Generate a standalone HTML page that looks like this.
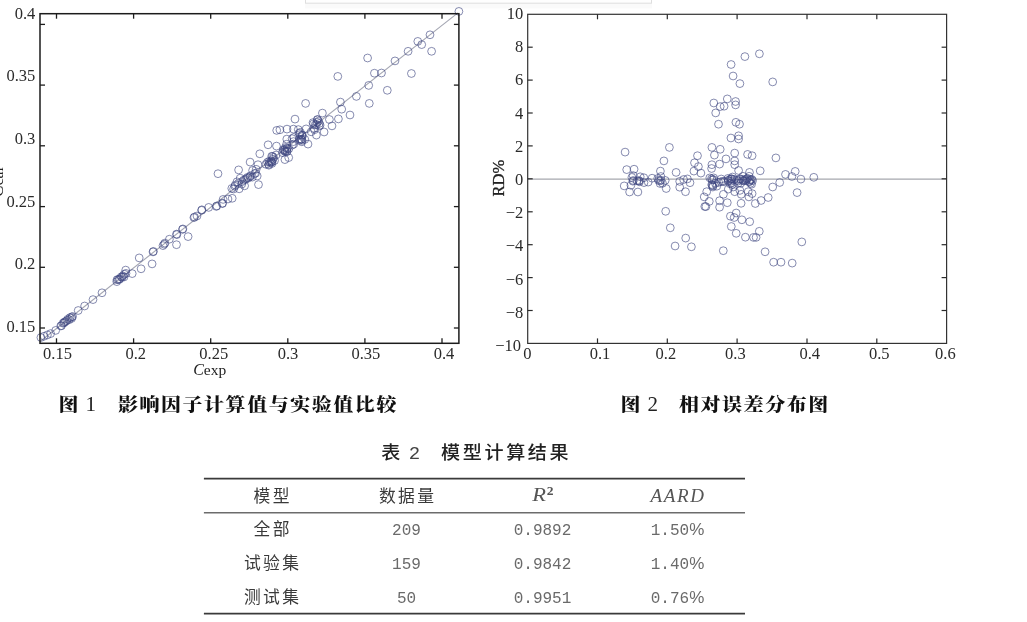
<!DOCTYPE html>
<html lang="zh-CN"><head><meta charset="utf-8"><title>图1 图2 表2</title><style>
html,body{margin:0;padding:0;background:#fff;}
body{width:1027px;height:622px;overflow:hidden;position:relative;}
svg{display:block;position:absolute;left:0;top:0;filter:blur(0.45px);}
.tick{font-family:"Liberation Serif",serif;font-size:16.5px;fill:#2a2a2a;}
.axl{font-family:"Liberation Serif",serif;fill:#222;}
.cap{font-family:"Liberation Serif","Noto Serif CJK SC",serif;font-weight:900;font-size:18.5px;letter-spacing:1.45px;fill:#111;}
.capn{font-family:"Liberation Serif",serif;font-weight:400;font-size:21px;fill:#222;}
.ttl{font-family:"Liberation Sans","Noto Sans CJK SC",sans-serif;font-weight:500;font-size:18px;letter-spacing:2.5px;fill:#222;}
.ttn{font-family:"Liberation Mono",monospace;font-weight:400;font-size:19px;fill:#444;}
.tc{font-family:"Liberation Sans","Noto Sans CJK SC",sans-serif;font-weight:400;font-size:16.8px;letter-spacing:2.4px;fill:#3a3a3a;text-anchor:middle;}
.tn{font-family:"Liberation Mono",monospace;font-size:16px;fill:#6a6a6a;text-anchor:middle;}
.pc{font-family:"Liberation Sans",sans-serif;font-size:17px;}
.th{font-family:"Liberation Serif",serif;font-style:italic;font-size:19px;fill:#555;text-anchor:middle;}
</style></head><body>
<svg width="1027" height="622" viewBox="0 0 1027 622" role="img" aria-label="图1 影响因子计算值与实验值比较；图2 相对误差分布图；表2 模型计算结果">
<rect width="1027" height="622" fill="#fff"/>
<rect x="305" y="3.4" width="347" height="5" fill="#fafafa"/>
<rect x="305.5" y="-2" width="346" height="5.2" fill="#fefefe" stroke="#dedede" stroke-width="1"/>
<g id="plot1">
<line x1="40.0" y1="341.5" x2="457.9" y2="12.863440000000026" stroke="#a4a6b2" stroke-width="1.1"/>
<g fill="none" stroke="#3e4680" stroke-width="1.0" stroke-opacity="0.62"><circle cx="40.9" cy="337.5" r="3.9"/><circle cx="44.1" cy="336.2" r="3.9"/><circle cx="47.4" cy="334.9" r="3.9"/><circle cx="50.6" cy="333.6" r="3.9"/><circle cx="55.7" cy="330.4" r="3.9"/><circle cx="78.2" cy="310.5" r="3.9"/><circle cx="84.6" cy="306.0" r="3.9"/><circle cx="93.0" cy="299.6" r="3.9"/><circle cx="102.0" cy="292.8" r="3.9"/><circle cx="125.7" cy="270.1" r="3.9"/><circle cx="132.2" cy="273.6" r="3.9"/><circle cx="141.1" cy="268.8" r="3.9"/><circle cx="139.2" cy="257.9" r="3.9"/><circle cx="152.1" cy="263.9" r="3.9"/><circle cx="153.4" cy="251.4" r="3.9"/><circle cx="163.0" cy="245.6" r="3.9"/><circle cx="164.9" cy="243.1" r="3.9"/><circle cx="169.4" cy="239.2" r="3.9"/><circle cx="176.5" cy="244.7" r="3.9"/><circle cx="176.5" cy="234.1" r="3.9"/><circle cx="182.9" cy="228.9" r="3.9"/><circle cx="188.1" cy="236.6" r="3.9"/><circle cx="193.9" cy="217.6" r="3.9"/><circle cx="197.0" cy="216.0" r="3.9"/><circle cx="201.6" cy="210.3" r="3.9"/><circle cx="208.7" cy="207.4" r="3.9"/><circle cx="216.3" cy="206.4" r="3.9"/><circle cx="222.3" cy="203.6" r="3.9"/><circle cx="223.1" cy="199.4" r="3.9"/><circle cx="228.0" cy="199.0" r="3.9"/><circle cx="218.0" cy="173.7" r="3.9"/><circle cx="238.6" cy="169.9" r="3.9"/><circle cx="258.5" cy="184.6" r="3.9"/><circle cx="250.1" cy="162.1" r="3.9"/><circle cx="259.8" cy="153.8" r="3.9"/><circle cx="268.1" cy="144.8" r="3.9"/><circle cx="276.5" cy="146.1" r="3.9"/><circle cx="284.9" cy="159.6" r="3.9"/><circle cx="288.7" cy="157.6" r="3.9"/><circle cx="308.0" cy="144.1" r="3.9"/><circle cx="316.4" cy="135.1" r="3.9"/><circle cx="324.1" cy="132.0" r="3.9"/><circle cx="337.8" cy="76.4" r="3.9"/><circle cx="305.6" cy="103.4" r="3.9"/><circle cx="295.0" cy="119.1" r="3.9"/><circle cx="276.7" cy="130.4" r="3.9"/><circle cx="279.9" cy="129.8" r="3.9"/><circle cx="287.0" cy="129.1" r="3.9"/><circle cx="293.4" cy="129.1" r="3.9"/><circle cx="322.4" cy="113.1" r="3.9"/><circle cx="329.4" cy="119.5" r="3.9"/><circle cx="332.0" cy="125.9" r="3.9"/><circle cx="338.4" cy="118.9" r="3.9"/><circle cx="340.4" cy="102.1" r="3.9"/><circle cx="341.7" cy="109.2" r="3.9"/><circle cx="350.0" cy="115.0" r="3.9"/><circle cx="356.4" cy="96.4" r="3.9"/><circle cx="369.3" cy="103.4" r="3.9"/><circle cx="368.7" cy="85.4" r="3.9"/><circle cx="374.4" cy="73.2" r="3.9"/><circle cx="381.5" cy="73.0" r="3.9"/><circle cx="387.3" cy="90.3" r="3.9"/><circle cx="458.9" cy="11.4" r="3.9"/><circle cx="430.0" cy="34.8" r="3.9"/><circle cx="417.8" cy="41.4" r="3.9"/><circle cx="421.7" cy="44.6" r="3.9"/><circle cx="431.6" cy="51.3" r="3.9"/><circle cx="408.1" cy="51.3" r="3.9"/><circle cx="395.0" cy="60.9" r="3.9"/><circle cx="411.4" cy="73.5" r="3.9"/><circle cx="367.6" cy="58.0" r="3.9"/><circle cx="60.8" cy="325.9" r="3.9"/><circle cx="61.5" cy="325.7" r="3.9"/><circle cx="63.0" cy="323.2" r="3.9"/><circle cx="64.0" cy="322.9" r="3.9"/><circle cx="64.4" cy="322.0" r="3.9"/><circle cx="65.5" cy="321.6" r="3.9"/><circle cx="66.9" cy="320.6" r="3.9"/><circle cx="67.7" cy="319.3" r="3.9"/><circle cx="69.2" cy="319.7" r="3.9"/><circle cx="69.9" cy="317.6" r="3.9"/><circle cx="71.6" cy="318.4" r="3.9"/><circle cx="71.7" cy="317.0" r="3.9"/><circle cx="72.6" cy="316.5" r="3.9"/><circle cx="116.8" cy="281.6" r="3.9"/><circle cx="117.0" cy="279.8" r="3.9"/><circle cx="118.1" cy="279.4" r="3.9"/><circle cx="119.2" cy="279.5" r="3.9"/><circle cx="119.7" cy="278.9" r="3.9"/><circle cx="121.2" cy="276.9" r="3.9"/><circle cx="122.0" cy="277.3" r="3.9"/><circle cx="122.8" cy="275.9" r="3.9"/><circle cx="124.0" cy="277.0" r="3.9"/><circle cx="124.3" cy="274.2" r="3.9"/><circle cx="126.0" cy="273.4" r="3.9"/><circle cx="231.8" cy="188.4" r="3.9"/><circle cx="232.2" cy="198.3" r="3.9"/><circle cx="233.6" cy="189.0" r="3.9"/><circle cx="234.8" cy="186.3" r="3.9"/><circle cx="235.3" cy="185.1" r="3.9"/><circle cx="237.0" cy="181.8" r="3.9"/><circle cx="238.5" cy="183.3" r="3.9"/><circle cx="239.2" cy="188.8" r="3.9"/><circle cx="240.2" cy="178.2" r="3.9"/><circle cx="241.8" cy="184.1" r="3.9"/><circle cx="242.3" cy="181.6" r="3.9"/><circle cx="243.6" cy="180.2" r="3.9"/><circle cx="244.6" cy="185.8" r="3.9"/><circle cx="245.3" cy="179.5" r="3.9"/><circle cx="246.5" cy="178.5" r="3.9"/><circle cx="247.6" cy="177.3" r="3.9"/><circle cx="248.4" cy="178.1" r="3.9"/><circle cx="250.2" cy="176.6" r="3.9"/><circle cx="250.5" cy="175.7" r="3.9"/><circle cx="252.4" cy="177.1" r="3.9"/><circle cx="252.6" cy="170.4" r="3.9"/><circle cx="254.6" cy="173.6" r="3.9"/><circle cx="255.6" cy="173.2" r="3.9"/><circle cx="256.2" cy="169.3" r="3.9"/><circle cx="257.2" cy="176.0" r="3.9"/><circle cx="258.0" cy="164.7" r="3.9"/><circle cx="271.9" cy="162.0" r="3.9"/><circle cx="272.0" cy="163.4" r="3.9"/><circle cx="267.5" cy="162.2" r="3.9"/><circle cx="273.0" cy="159.2" r="3.9"/><circle cx="268.9" cy="165.2" r="3.9"/><circle cx="273.5" cy="157.4" r="3.9"/><circle cx="265.9" cy="164.3" r="3.9"/><circle cx="269.1" cy="161.3" r="3.9"/><circle cx="272.5" cy="156.4" r="3.9"/><circle cx="271.7" cy="156.3" r="3.9"/><circle cx="268.7" cy="164.4" r="3.9"/><circle cx="274.5" cy="160.6" r="3.9"/><circle cx="271.2" cy="161.0" r="3.9"/><circle cx="271.3" cy="162.2" r="3.9"/><circle cx="269.9" cy="162.4" r="3.9"/><circle cx="287.3" cy="147.9" r="3.9"/><circle cx="288.9" cy="148.7" r="3.9"/><circle cx="292.4" cy="145.0" r="3.9"/><circle cx="283.5" cy="149.5" r="3.9"/><circle cx="287.1" cy="151.4" r="3.9"/><circle cx="285.1" cy="151.0" r="3.9"/><circle cx="286.8" cy="139.1" r="3.9"/><circle cx="282.4" cy="152.6" r="3.9"/><circle cx="287.2" cy="148.8" r="3.9"/><circle cx="285.3" cy="151.8" r="3.9"/><circle cx="285.5" cy="147.5" r="3.9"/><circle cx="293.8" cy="144.1" r="3.9"/><circle cx="283.6" cy="150.5" r="3.9"/><circle cx="284.7" cy="149.7" r="3.9"/><circle cx="276.1" cy="155.0" r="3.9"/><circle cx="286.6" cy="144.2" r="3.9"/><circle cx="286.9" cy="151.6" r="3.9"/><circle cx="304.8" cy="139.4" r="3.9"/><circle cx="293.5" cy="141.6" r="3.9"/><circle cx="299.5" cy="140.4" r="3.9"/><circle cx="298.3" cy="129.6" r="3.9"/><circle cx="300.4" cy="132.3" r="3.9"/><circle cx="299.1" cy="133.2" r="3.9"/><circle cx="302.1" cy="140.4" r="3.9"/><circle cx="299.4" cy="139.0" r="3.9"/><circle cx="302.3" cy="136.5" r="3.9"/><circle cx="301.9" cy="141.8" r="3.9"/><circle cx="302.3" cy="135.0" r="3.9"/><circle cx="306.1" cy="128.9" r="3.9"/><circle cx="301.9" cy="135.4" r="3.9"/><circle cx="301.1" cy="139.4" r="3.9"/><circle cx="301.3" cy="139.1" r="3.9"/><circle cx="292.1" cy="138.7" r="3.9"/><circle cx="299.8" cy="134.6" r="3.9"/><circle cx="293.7" cy="137.5" r="3.9"/><circle cx="319.4" cy="123.4" r="3.9"/><circle cx="317.5" cy="119.8" r="3.9"/><circle cx="313.0" cy="122.6" r="3.9"/><circle cx="319.2" cy="126.1" r="3.9"/><circle cx="314.5" cy="129.7" r="3.9"/><circle cx="317.2" cy="122.3" r="3.9"/><circle cx="311.2" cy="131.8" r="3.9"/><circle cx="313.5" cy="123.9" r="3.9"/><circle cx="316.4" cy="124.7" r="3.9"/><circle cx="317.4" cy="119.5" r="3.9"/><circle cx="320.1" cy="125.1" r="3.9"/><circle cx="318.5" cy="121.2" r="3.9"/><circle cx="314.1" cy="128.4" r="3.9"/><circle cx="315.2" cy="124.8" r="3.9"/><circle cx="164.2" cy="244.2" r="3.9"/><circle cx="176.9" cy="234.6" r="3.9"/><circle cx="194.5" cy="217.0" r="3.9"/><circle cx="201.9" cy="209.8" r="3.9"/><circle cx="216.8" cy="205.9" r="3.9"/><circle cx="222.6" cy="203.2" r="3.9"/><circle cx="182.5" cy="229.4" r="3.9"/><circle cx="153.0" cy="251.9" r="3.9"/></g>
<rect x="40.0" y="13.7" width="418.9" height="329.6" fill="none" stroke="#1c1c1c" stroke-width="1.5"/>
<g stroke="#1c1c1c" stroke-width="1.3"><line x1="56.5" y1="13.7" x2="56.5" y2="18.7"/><line x1="56.5" y1="343.3" x2="56.5" y2="338.3"/><line x1="133.6" y1="13.7" x2="133.6" y2="18.7"/><line x1="133.6" y1="343.3" x2="133.6" y2="338.3"/><line x1="210.7" y1="13.7" x2="210.7" y2="18.7"/><line x1="210.7" y1="343.3" x2="210.7" y2="338.3"/><line x1="287.8" y1="13.7" x2="287.8" y2="18.7"/><line x1="287.8" y1="343.3" x2="287.8" y2="338.3"/><line x1="364.9" y1="13.7" x2="364.9" y2="18.7"/><line x1="364.9" y1="343.3" x2="364.9" y2="338.3"/><line x1="442.0" y1="13.7" x2="442.0" y2="18.7"/><line x1="442.0" y1="343.3" x2="442.0" y2="338.3"/><line x1="40.0" y1="24.4" x2="45.0" y2="24.4"/><line x1="458.9" y1="24.4" x2="453.9" y2="24.4"/><line x1="40.0" y1="85.1" x2="45.0" y2="85.1"/><line x1="458.9" y1="85.1" x2="453.9" y2="85.1"/><line x1="40.0" y1="145.8" x2="45.0" y2="145.8"/><line x1="458.9" y1="145.8" x2="453.9" y2="145.8"/><line x1="40.0" y1="206.6" x2="45.0" y2="206.6"/><line x1="458.9" y1="206.6" x2="453.9" y2="206.6"/><line x1="40.0" y1="267.3" x2="45.0" y2="267.3"/><line x1="458.9" y1="267.3" x2="453.9" y2="267.3"/><line x1="40.0" y1="328.0" x2="45.0" y2="328.0"/><line x1="458.9" y1="328.0" x2="453.9" y2="328.0"/></g>
<g class="tick" text-anchor="middle"><text x="57.5" y="359.2">0.15</text><text x="135.8" y="359.2">0.2</text><text x="213.7" y="359.2">0.25</text><text x="288.0" y="359.2">0.3</text><text x="365.9" y="359.2">0.35</text><text x="444.0" y="359.2">0.4</text></g><g class="tick" text-anchor="end"><text x="35.3" y="18.5">0.4</text><text x="35.3" y="81.2">0.35</text><text x="35.3" y="143.9">0.3</text><text x="35.3" y="206.6">0.25</text><text x="35.3" y="269.4">0.2</text><text x="35.3" y="332.2">0.15</text></g>
<text class="axl" x="193.2" y="374.5"><tspan font-style="italic" font-size="16">C</tspan><tspan font-size="15.5">exp</tspan></text>
<text class="axl" transform="translate(2.9,182) rotate(-90)" text-anchor="middle"><tspan font-style="italic" font-size="17">C</tspan><tspan font-size="15.5">cal</tspan></text>
</g>
<g id="plot2">
<line x1="527.7" y1="179.1" x2="946.6" y2="179.1" stroke="#a6a7ae" stroke-width="1.1"/>
<g fill="none" stroke="#3e4680" stroke-width="1.0" stroke-opacity="0.62"><circle cx="625.1" cy="152.1" r="3.9"/><circle cx="626.7" cy="169.6" r="3.9"/><circle cx="634.1" cy="169.2" r="3.9"/><circle cx="624.2" cy="185.9" r="3.9"/><circle cx="629.6" cy="192.0" r="3.9"/><circle cx="637.9" cy="192.0" r="3.9"/><circle cx="630.9" cy="185.3" r="3.9"/><circle cx="648.2" cy="182.1" r="3.9"/><circle cx="652.1" cy="178.2" r="3.9"/><circle cx="669.4" cy="147.4" r="3.9"/><circle cx="663.9" cy="160.9" r="3.9"/><circle cx="660.4" cy="171.1" r="3.9"/><circle cx="666.2" cy="188.5" r="3.9"/><circle cx="665.7" cy="211.3" r="3.9"/><circle cx="676.1" cy="172.4" r="3.9"/><circle cx="679.7" cy="181.4" r="3.9"/><circle cx="683.6" cy="179.5" r="3.9"/><circle cx="687.4" cy="178.9" r="3.9"/><circle cx="690.0" cy="182.7" r="3.9"/><circle cx="679.7" cy="187.2" r="3.9"/><circle cx="685.5" cy="191.7" r="3.9"/><circle cx="697.5" cy="155.7" r="3.9"/><circle cx="694.5" cy="162.8" r="3.9"/><circle cx="698.4" cy="166.6" r="3.9"/><circle cx="693.9" cy="171.1" r="3.9"/><circle cx="700.9" cy="173.1" r="3.9"/><circle cx="711.9" cy="147.4" r="3.9"/><circle cx="720.2" cy="149.3" r="3.9"/><circle cx="714.4" cy="155.1" r="3.9"/><circle cx="726.0" cy="158.9" r="3.9"/><circle cx="711.9" cy="164.7" r="3.9"/><circle cx="719.6" cy="164.1" r="3.9"/><circle cx="711.6" cy="168.5" r="3.9"/><circle cx="706.7" cy="191.7" r="3.9"/><circle cx="704.2" cy="196.9" r="3.9"/><circle cx="709.3" cy="201.4" r="3.9"/><circle cx="704.8" cy="206.5" r="3.9"/><circle cx="719.6" cy="200.7" r="3.9"/><circle cx="723.4" cy="194.3" r="3.9"/><circle cx="727.3" cy="202.7" r="3.9"/><circle cx="719.6" cy="207.2" r="3.9"/><circle cx="730.9" cy="138.0" r="3.9"/><circle cx="738.6" cy="135.8" r="3.9"/><circle cx="738.6" cy="139.0" r="3.9"/><circle cx="734.7" cy="153.1" r="3.9"/><circle cx="734.7" cy="160.9" r="3.9"/><circle cx="734.7" cy="164.7" r="3.9"/><circle cx="747.6" cy="154.4" r="3.9"/><circle cx="752.1" cy="155.7" r="3.9"/><circle cx="775.9" cy="157.9" r="3.9"/><circle cx="760.2" cy="170.8" r="3.9"/><circle cx="749.5" cy="172.4" r="3.9"/><circle cx="738.6" cy="170.5" r="3.9"/><circle cx="785.5" cy="174.4" r="3.9"/><circle cx="795.2" cy="171.4" r="3.9"/><circle cx="791.9" cy="176.5" r="3.9"/><circle cx="800.9" cy="179.1" r="3.9"/><circle cx="813.8" cy="177.3" r="3.9"/><circle cx="779.7" cy="182.5" r="3.9"/><circle cx="772.7" cy="187.0" r="3.9"/><circle cx="797.1" cy="192.6" r="3.9"/><circle cx="768.2" cy="197.5" r="3.9"/><circle cx="761.1" cy="200.5" r="3.9"/><circle cx="755.3" cy="203.5" r="3.9"/><circle cx="752.1" cy="193.6" r="3.9"/><circle cx="748.2" cy="191.7" r="3.9"/><circle cx="748.9" cy="196.9" r="3.9"/><circle cx="739.9" cy="190.4" r="3.9"/><circle cx="741.2" cy="194.3" r="3.9"/><circle cx="741.1" cy="203.3" r="3.9"/><circle cx="728.3" cy="189.1" r="3.9"/><circle cx="734.7" cy="191.7" r="3.9"/><circle cx="712.9" cy="185.9" r="3.9"/><circle cx="759.4" cy="53.8" r="3.9"/><circle cx="744.9" cy="56.6" r="3.9"/><circle cx="731.1" cy="64.5" r="3.9"/><circle cx="733.1" cy="76.0" r="3.9"/><circle cx="739.9" cy="83.6" r="3.9"/><circle cx="772.7" cy="81.9" r="3.9"/><circle cx="713.8" cy="103.0" r="3.9"/><circle cx="727.3" cy="98.9" r="3.9"/><circle cx="735.6" cy="101.5" r="3.9"/><circle cx="735.6" cy="104.9" r="3.9"/><circle cx="720.2" cy="106.6" r="3.9"/><circle cx="724.1" cy="106.2" r="3.9"/><circle cx="715.7" cy="112.9" r="3.9"/><circle cx="718.5" cy="124.2" r="3.9"/><circle cx="735.9" cy="122.3" r="3.9"/><circle cx="739.5" cy="124.2" r="3.9"/><circle cx="670.3" cy="227.8" r="3.9"/><circle cx="685.7" cy="238.1" r="3.9"/><circle cx="675.1" cy="246.0" r="3.9"/><circle cx="691.4" cy="246.8" r="3.9"/><circle cx="723.3" cy="250.7" r="3.9"/><circle cx="705.9" cy="206.6" r="3.9"/><circle cx="736.2" cy="213.0" r="3.9"/><circle cx="730.4" cy="216.2" r="3.9"/><circle cx="734.2" cy="217.5" r="3.9"/><circle cx="741.9" cy="219.8" r="3.9"/><circle cx="749.7" cy="221.7" r="3.9"/><circle cx="731.3" cy="226.5" r="3.9"/><circle cx="736.2" cy="233.3" r="3.9"/><circle cx="745.4" cy="237.2" r="3.9"/><circle cx="753.5" cy="237.4" r="3.9"/><circle cx="756.1" cy="237.4" r="3.9"/><circle cx="759.3" cy="231.3" r="3.9"/><circle cx="765.1" cy="251.8" r="3.9"/><circle cx="773.6" cy="262.2" r="3.9"/><circle cx="781.0" cy="262.2" r="3.9"/><circle cx="792.2" cy="263.1" r="3.9"/><circle cx="801.8" cy="241.9" r="3.9"/><circle cx="643.8" cy="177.7" r="3.9"/><circle cx="631.9" cy="177.4" r="3.9"/><circle cx="633.3" cy="180.5" r="3.9"/><circle cx="640.2" cy="176.8" r="3.9"/><circle cx="639.2" cy="180.6" r="3.9"/><circle cx="639.5" cy="181.8" r="3.9"/><circle cx="639.0" cy="181.1" r="3.9"/><circle cx="644.0" cy="182.6" r="3.9"/><circle cx="637.1" cy="180.7" r="3.9"/><circle cx="633.2" cy="175.6" r="3.9"/><circle cx="632.9" cy="181.2" r="3.9"/><circle cx="658.6" cy="180.3" r="3.9"/><circle cx="660.9" cy="180.2" r="3.9"/><circle cx="660.0" cy="181.0" r="3.9"/><circle cx="665.2" cy="180.4" r="3.9"/><circle cx="662.5" cy="183.3" r="3.9"/><circle cx="660.9" cy="176.5" r="3.9"/><circle cx="660.1" cy="183.5" r="3.9"/><circle cx="657.7" cy="178.5" r="3.9"/><circle cx="713.7" cy="177.9" r="3.9"/><circle cx="721.2" cy="179.0" r="3.9"/><circle cx="743.0" cy="176.3" r="3.9"/><circle cx="742.4" cy="179.6" r="3.9"/><circle cx="749.1" cy="176.3" r="3.9"/><circle cx="731.2" cy="181.1" r="3.9"/><circle cx="731.5" cy="178.8" r="3.9"/><circle cx="732.5" cy="177.0" r="3.9"/><circle cx="730.0" cy="183.7" r="3.9"/><circle cx="747.6" cy="178.3" r="3.9"/><circle cx="750.5" cy="179.6" r="3.9"/><circle cx="750.5" cy="183.3" r="3.9"/><circle cx="746.0" cy="180.7" r="3.9"/><circle cx="728.5" cy="180.8" r="3.9"/><circle cx="712.2" cy="179.9" r="3.9"/><circle cx="738.5" cy="180.9" r="3.9"/><circle cx="743.5" cy="181.0" r="3.9"/><circle cx="740.5" cy="178.9" r="3.9"/><circle cx="738.1" cy="183.3" r="3.9"/><circle cx="751.6" cy="184.2" r="3.9"/><circle cx="718.7" cy="182.4" r="3.9"/><circle cx="730.4" cy="179.0" r="3.9"/><circle cx="752.6" cy="180.6" r="3.9"/><circle cx="728.0" cy="178.4" r="3.9"/><circle cx="731.7" cy="178.9" r="3.9"/><circle cx="723.0" cy="181.3" r="3.9"/><circle cx="740.8" cy="183.2" r="3.9"/><circle cx="728.4" cy="180.2" r="3.9"/><circle cx="709.8" cy="177.9" r="3.9"/><circle cx="731.5" cy="183.1" r="3.9"/><circle cx="711.8" cy="184.5" r="3.9"/><circle cx="751.8" cy="179.4" r="3.9"/><circle cx="713.6" cy="179.7" r="3.9"/><circle cx="743.3" cy="180.6" r="3.9"/><circle cx="720.9" cy="181.7" r="3.9"/><circle cx="749.1" cy="181.9" r="3.9"/><circle cx="745.0" cy="179.7" r="3.9"/><circle cx="749.4" cy="181.3" r="3.9"/><circle cx="734.1" cy="179.4" r="3.9"/><circle cx="711.5" cy="178.7" r="3.9"/><circle cx="739.3" cy="178.9" r="3.9"/><circle cx="750.3" cy="180.3" r="3.9"/><circle cx="736.9" cy="180.2" r="3.9"/><circle cx="746.7" cy="178.7" r="3.9"/><circle cx="712.8" cy="187.0" r="3.9"/><circle cx="724.2" cy="181.6" r="3.9"/><circle cx="733.2" cy="187.0" r="3.9"/><circle cx="715.4" cy="183.3" r="3.9"/><circle cx="732.1" cy="184.6" r="3.9"/><circle cx="716.8" cy="186.2" r="3.9"/><circle cx="712.1" cy="185.4" r="3.9"/></g>
<rect x="527.7" y="14.3" width="418.9" height="329.09999999999997" fill="none" stroke="#333" stroke-width="1.2"/>
<g stroke="#2a2a2a" stroke-width="1.2"><line x1="597.5" y1="14.3" x2="597.5" y2="19.3"/><line x1="597.5" y1="343.4" x2="597.5" y2="338.4"/><line x1="667.3" y1="14.3" x2="667.3" y2="19.3"/><line x1="667.3" y1="343.4" x2="667.3" y2="338.4"/><line x1="737.1" y1="14.3" x2="737.1" y2="19.3"/><line x1="737.1" y1="343.4" x2="737.1" y2="338.4"/><line x1="807.0" y1="14.3" x2="807.0" y2="19.3"/><line x1="807.0" y1="343.4" x2="807.0" y2="338.4"/><line x1="876.8" y1="14.3" x2="876.8" y2="19.3"/><line x1="876.8" y1="343.4" x2="876.8" y2="338.4"/><line x1="527.7" y1="47.2" x2="532.7" y2="47.2"/><line x1="946.6" y1="47.2" x2="941.6" y2="47.2"/><line x1="527.7" y1="80.1" x2="532.7" y2="80.1"/><line x1="946.6" y1="80.1" x2="941.6" y2="80.1"/><line x1="527.7" y1="113.0" x2="532.7" y2="113.0"/><line x1="946.6" y1="113.0" x2="941.6" y2="113.0"/><line x1="527.7" y1="145.9" x2="532.7" y2="145.9"/><line x1="946.6" y1="145.9" x2="941.6" y2="145.9"/><line x1="527.7" y1="178.8" x2="532.7" y2="178.8"/><line x1="946.6" y1="178.8" x2="941.6" y2="178.8"/><line x1="527.7" y1="211.8" x2="532.7" y2="211.8"/><line x1="946.6" y1="211.8" x2="941.6" y2="211.8"/><line x1="527.7" y1="244.7" x2="532.7" y2="244.7"/><line x1="946.6" y1="244.7" x2="941.6" y2="244.7"/><line x1="527.7" y1="277.6" x2="532.7" y2="277.6"/><line x1="946.6" y1="277.6" x2="941.6" y2="277.6"/><line x1="527.7" y1="310.5" x2="532.7" y2="310.5"/><line x1="946.6" y1="310.5" x2="941.6" y2="310.5"/></g>
<g class="tick" text-anchor="middle"><text x="527.4" y="359.2">0</text><text x="600.0" y="359.2">0.1</text><text x="665.9" y="359.2">0.2</text><text x="735.4" y="359.2">0.3</text><text x="809.7" y="359.2">0.4</text><text x="879.3" y="359.2">0.5</text><text x="945.4" y="359.2">0.6</text></g><g class="tick" text-anchor="end"><text x="523.3" y="18.9">10</text><text x="523.3" y="52.1">8</text><text x="523.3" y="85.3">6</text><text x="523.3" y="118.5">4</text><text x="523.3" y="151.7">2</text><text x="523.3" y="184.9">0</text><text x="523.3" y="218.1">−2</text><text x="523.3" y="251.3">−4</text><text x="523.3" y="284.5">−6</text><text x="523.3" y="317.7">−8</text><text x="521.0" y="351.0">−10</text></g>
<text class="axl" font-size="16.5" stroke="#222" stroke-width="0.3" transform="translate(504,178.2) rotate(-90)" text-anchor="middle">RD%</text>
</g>
<text class="cap" transform="translate(58.4,411.2) scale(1.08,1)">图</text>
<text class="capn" x="85.4" y="411.2">1</text>
<text class="cap" transform="translate(117.9,411.2) scale(1.08,1)">影响因子计算值与实验值比较</text>
<text class="cap" transform="translate(620.4,411.2) scale(1.08,1)">图</text>
<text class="capn" x="647.5" y="411.2">2</text>
<text class="cap" transform="translate(679.0,411.2) scale(1.08,1)">相对误差分布图</text>
<text class="ttl" transform="translate(381.3,458.5) scale(1.06,1)">表</text>
<text class="ttn" x="408.8" y="458.5">2</text>
<text class="ttl" transform="translate(441.0,458.5) scale(1.06,1)">模型计算结果</text>
<g id="table">
<line x1="203.9" y1="478.6" x2="745" y2="478.6" stroke="#3a3a3a" stroke-width="1.6"/>
<line x1="203.9" y1="512.7" x2="745" y2="512.7" stroke="#6c6c6c" stroke-width="1.5"/>
<line x1="203.9" y1="613.6" x2="745" y2="613.6" stroke="#3a3a3a" stroke-width="1.6"/>
<text class="tc" x="272.7" y="502.3">模型</text>
<text class="tc" x="407.7" y="502.3">数据量</text>
<text class="tc" x="272.7" y="535.1">全部</text>
<text class="tn" x="406.5" y="535.0">209</text>
<text class="tn" x="542.5" y="535.0">0.9892</text>
<text class="tn" x="677.5" y="535.0">1.50<tspan class="pc">%</tspan></text>
<text class="tc" x="272.7" y="568.9">试验集</text>
<text class="tn" x="406.5" y="568.8">159</text>
<text class="tn" x="542.5" y="568.8">0.9842</text>
<text class="tn" x="677.5" y="568.8">1.40<tspan class="pc">%</tspan></text>
<text class="tc" x="272.7" y="602.9">测试集</text>
<text class="tn" x="406.5" y="602.8">50</text>
<text class="tn" x="542.5" y="602.8">0.9951</text>
<text class="tn" x="677.5" y="602.8">0.76<tspan class="pc">%</tspan></text>
<text class="th" transform="translate(532.3,501.3) scale(1.18,1)" style="text-anchor:start">R<tspan font-size="11.5" dy="-6.3" dx="0.6" font-style="normal" font-weight="700">2</tspan></text>
<text class="th" x="678" y="501.5" letter-spacing="1.6">AARD</text>
</g>
</svg>
</body></html>
